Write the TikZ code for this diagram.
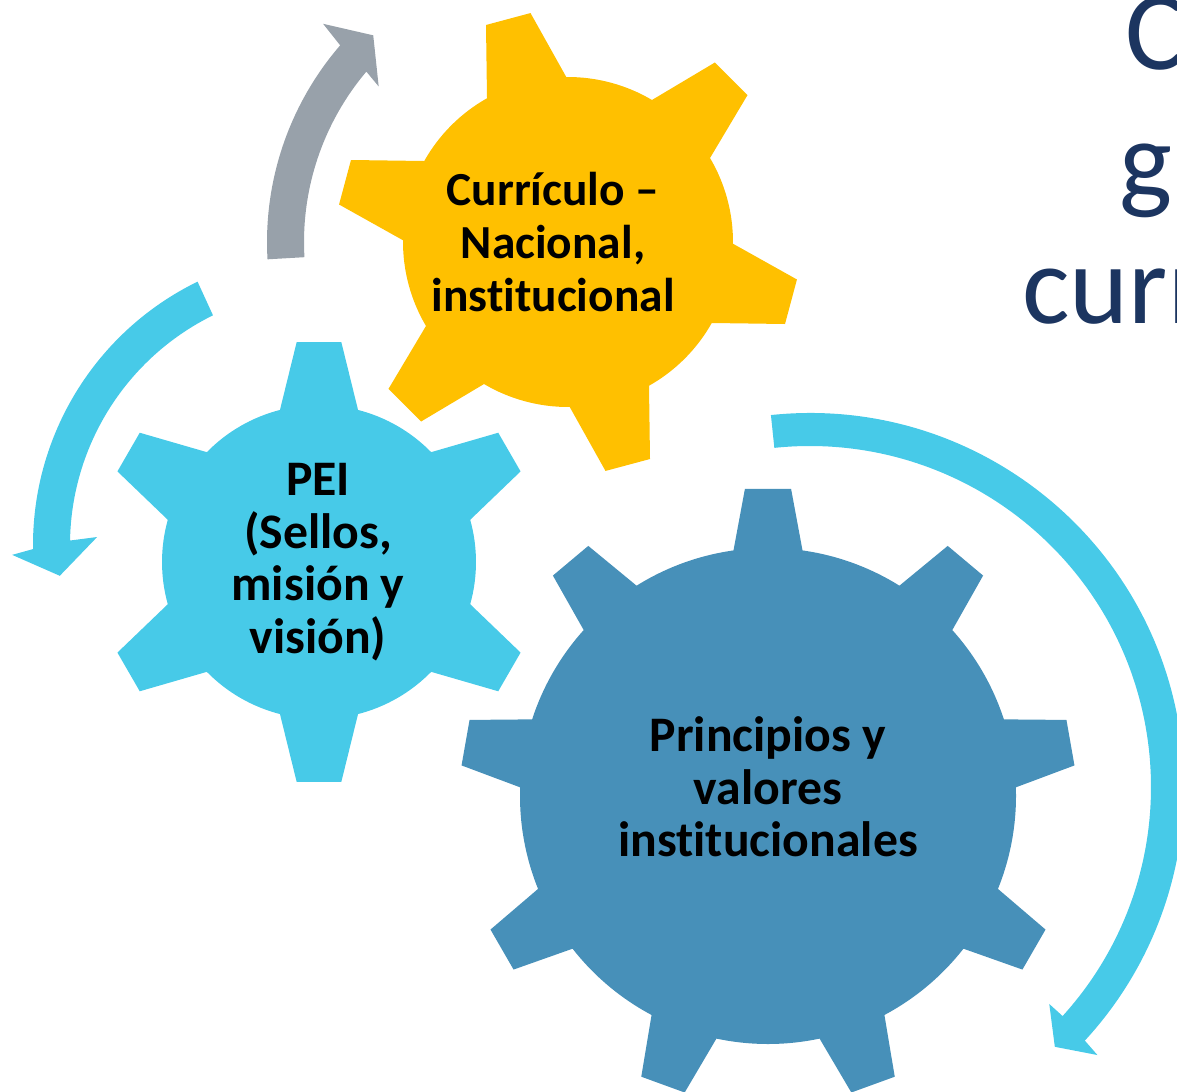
\documentclass[tikz,border=0pt]{standalone}
\usepackage{fontspec}
\setmainfont{Carlito}[Ligatures=NoCommon]

\definecolor{gearyellow}{RGB}{255,192,0}
\definecolor{gearcyan}{RGB}{71,202,232}
\definecolor{gearblue}{RGB}{71,144,185}
\definecolor{arrowgray}{RGB}{152,161,170}
\definecolor{titlenavy}{RGB}{28,53,96}

\begin{document}
\begin{tikzpicture}[x=0.02cm,y=0.02cm,
  gearlabel/.style={font=\bfseries\fontsize{28.3}{30}\selectfont, align=center, text=black},
  smallgearlabel/.style={gearlabel, font=\bfseries\fontsize{27}{30}\selectfont},
  titletext/.style={font=\fontsize{64}{72}\selectfont, text=titlenavy, anchor=base west, inner sep=0pt}]
\clip (0,0) rectangle (1177,-1092);
\coordinate (curc) at (568,-242);
\coordinate (peic) at (319,-562);
\coordinate (valc) at (768,-796);
\coordinate (grayc) at (568,-242);
\coordinate (leftc) at (326,-545);
\coordinate (rightc) at (810,-787);
% gears
\fill[gearyellow, shift={(curc)}] (-29.4:165) \foreach \a in {-15,45,...,285} {-- (\a-14.4:165) -- (\a-5.7:232) -- (\a+5.7:232) -- (\a+14.4:165) arc[start angle=\a+14.4, end angle=\a+45.6, radius=165]} -- cycle;
\fill[gearcyan, shift={(peic)}] (15.6:157) \foreach \a in {30,90,...,330} {-- (\a-14.4:157) -- (\a-5.8:221) -- (\a+5.8:221) -- (\a+14.4:157) arc[start angle=\a+14.4, end angle=\a+45.6, radius=157]} -- cycle;
\fill[gearblue, shift={(valc)}] (2:248) \foreach \a in {10,50,...,330} {-- (\a-8:248) -- (\a-4.3:308) -- (\a+4.3:308) -- (\a+8:248) arc[start angle=\a+8, end angle=\a+32, radius=248]} -- cycle;
% arrows
\fill[arrowgray, shift={(grayc)}] (183.3:264) arc[start angle=183.3, end angle=139.8, radius=264] -- (140.6:245) -- (133.3:284) -- (138.3:328) -- (139.2:301) arc[start angle=139.2, end angle=183.3, radius=301] -- cycle;
\fill[gearcyan, shift={(leftc)}] (116:293) arc[start angle=116, end angle=180.8, radius=293] -- (181.8:314) -- (186.6:268) -- (178:229) -- (179:256) arc[start angle=179, end angle=116.2, radius=256] -- cycle;
\fill[gearcyan, shift={(rightc)}] (96:374) arc[start angle=96, end angle=-42.7, radius=374] -- (-43:393) -- (-46.7:357) -- (-42.2:323) -- (-42.2:341) arc[start angle=-42.2, end angle=96, radius=341] -- cycle;
% labels
\node[smallgearlabel] (cur) at (553,-242) {Currículo –\\Nacional,\\institucional};
\node[gearlabel] (pei) at (318,-562) {PEI\\(Sellos,\\misión y\\visión)};
\node[gearlabel] (val) at (768,-787) {Principios y\\valores\\institucionales};
% title
\node[titletext] (t1) at (1125,-70) {C};
\node[titletext] (t2) at (1119,-198) {g};
\node[titletext] (t3) at (1022,-323) {curr};
\end{tikzpicture}
\end{document}
